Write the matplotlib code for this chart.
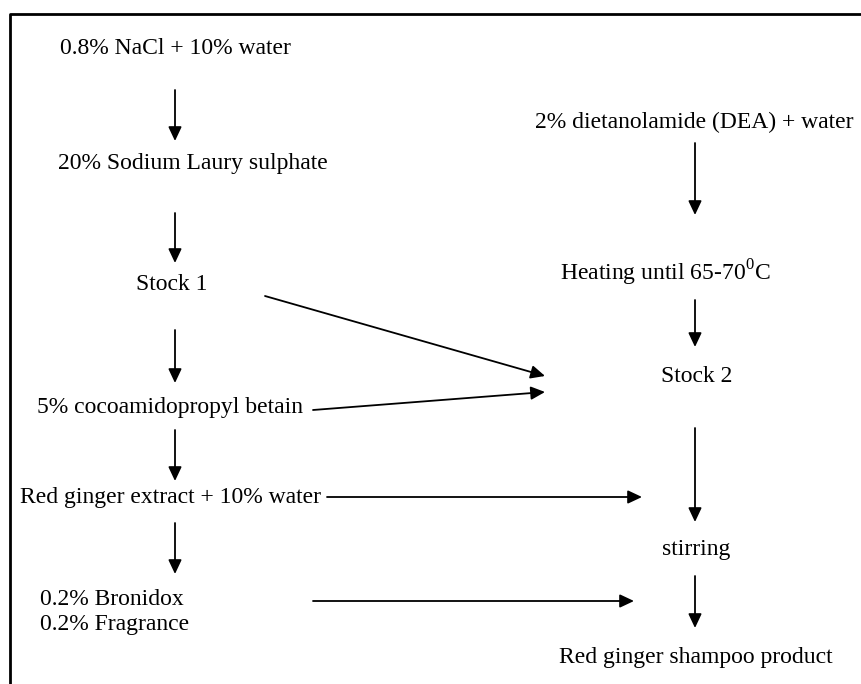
"""
Red ginger shampoo process flowchart.
"""
import matplotlib
matplotlib.use("Agg")
import matplotlib.pyplot as plt

plt.rcParams["font.family"] = ["Liberation Serif", "DejaVu Serif"]
plt.rcParams["mathtext.fontset"] = "custom"
plt.rcParams["mathtext.rm"] = "Liberation Serif"

# ── Step labels ───────────────────────────────────────────────────────────────
left_steps = ["0.8% NaCl + 10% water",
              "20% Sodium Laury sulphate",
              "Stock 1",
              "5% cocoamidopropyl betain",
              "Red ginger extract + 10% water",
              "0.2% Bronidox\n0.2% Fragrance"]
right_steps = ["2% dietanolamide (DEA) + water",
               "Heating until 65-70$^{0}$C",
               "Stock 2",
               "stirring",
               "Red ginger shampoo product"]

# ── Layout (pixel coords, y down) ─────────────────────────────────────────────
left_pos = [(175, 48), (193, 164), (172, 284), (170, 408), (170, 498), (40, 612)]
right_pos = [(694, 122), (665, 273), (697, 377), (696, 550), (696, 657)]
left_arrows = [(90, 141), (213, 263), (330, 383), (430, 481), (523, 574)]
right_arrows = [(143, 215), (300, 347), (428, 522), (576, 628)]
cross_arrows = [((265, 296), (545, 376)),
                ((313, 410), (545, 392)),
                ((327, 497), (642, 497)),
                ((313, 601), (634, 601))]

W, H = 861, 684
fig = plt.figure(figsize=(W / 100, H / 100), dpi=100)
ax = fig.add_axes([0, 0, 1, 1])
ax.set_xlim(0, W)
ax.set_ylim(H, 0)
ax.axis("off")

# border (open on right and bottom, as in the cropped original)
ax.plot([10, 10, W + 5], [H + 5, 14, 14], color="black", lw=2)

FS = 17
for txt, (x, y) in zip(left_steps, left_pos):
    if "\n" in txt:
        ax.text(x, y, txt, ha="left", va="center", fontsize=FS, linespacing=1.3)
    else:
        ax.text(x, y, txt, ha="center", va="center", fontsize=FS)
for txt, (x, y) in zip(right_steps, right_pos):
    ax.text(x, y, txt, ha="center", va="center", fontsize=FS)

aprops = dict(arrowstyle="-|>,head_length=0.85,head_width=0.4", color="black",
              lw=1.3, mutation_scale=10, shrinkA=0, shrinkB=0)
for y0, y1 in left_arrows:
    ax.annotate("", xy=(175, y1), xytext=(175, y0), arrowprops=aprops)
for y0, y1 in right_arrows:
    ax.annotate("", xy=(695, y1), xytext=(695, y0), arrowprops=aprops)
for start, end in cross_arrows:
    ax.annotate("", xy=end, xytext=start, arrowprops=aprops)

fig.savefig("out.png", dpi=100, facecolor="white")
plt.close(fig)
